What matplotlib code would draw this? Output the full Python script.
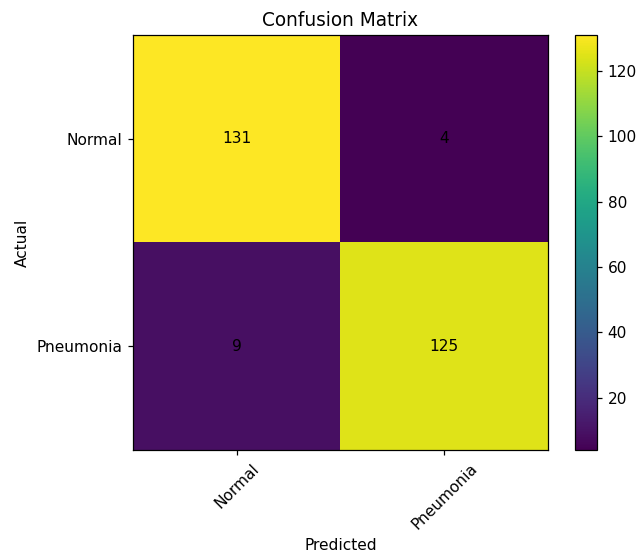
import numpy as np
import matplotlib.pyplot as plt

classes = ["Normal", "Pneumonia"]
cm = np.array([[131, 4],
               [9, 125]])

W, H = 638, 555
fig = plt.figure(figsize=(W / 111, H / 111), dpi=111)
ax = fig.add_axes([133 / W, 105 / H, 415 / W, 415 / H])
cax = fig.add_axes([575 / W, 105 / H, 22 / W, 415 / H])

im = ax.imshow(cm, cmap="viridis", aspect="auto")
ax.set_title("Confusion Matrix")
fig.colorbar(im, cax=cax)

ticks = np.arange(len(classes))
ax.set_xticks(ticks)
ax.set_xticklabels(classes, rotation=45)
ax.set_yticks(ticks)
ax.set_yticklabels(classes)

for i in range(cm.shape[0]):
    for j in range(cm.shape[1]):
        ax.text(j, i, str(cm[i, j]), ha="center", va="center", color="black")

ax.set_xlabel("Predicted")
ax.set_ylabel("Actual")
fig.savefig("out.png")
